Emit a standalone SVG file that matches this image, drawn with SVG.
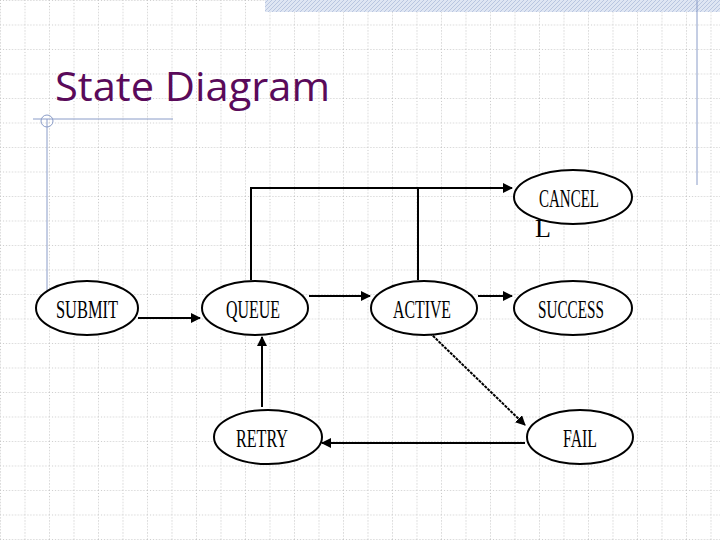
<svg xmlns="http://www.w3.org/2000/svg" width="720" height="540" viewBox="0 0 720 540">
<style>
.n ellipse{fill:#fff;stroke:#000;stroke-width:2}
.n text{font-family:"Liberation Serif",serif;font-size:26px;text-anchor:middle;}
.c line,.c path{stroke:#000;stroke-width:2;fill:none}
</style>
<defs>
<pattern id="g" width="24.5" height="24.5" patternUnits="userSpaceOnUse">
<path d="M0 0.5H24.5M0.5 0V24.5" stroke="#c8c8c8" stroke-width="1" stroke-dasharray="1 2"/>
</pattern>
<pattern id="h" width="4" height="4" patternUnits="userSpaceOnUse">
<rect width="4" height="4" fill="#dfe6f3"/><path d="M0 4L4 0" stroke="#b9c6e0" stroke-width="1"/>
</pattern>
<marker id="a" markerWidth="10" markerHeight="10" refX="9" refY="5" orient="auto" markerUnits="userSpaceOnUse">
<path d="M0 0L10 5L0 10z" fill="#000"/>
</marker>
</defs>
<rect width="720" height="540" fill="#fff"/>
<rect width="720" height="540" fill="url(#g)"/>
<rect x="265" y="0" width="455" height="12" fill="url(#h)"/>
<line x1="697" y1="0" x2="697" y2="185" stroke="#8a9cc8" stroke-width="1"/>
<line x1="33" y1="119" x2="173" y2="119" stroke="#8a9cc8" stroke-width="1"/>
<line x1="47" y1="119" x2="47" y2="290" stroke="#8a9cc8" stroke-width="1"/>
<circle cx="47" cy="121" r="6" fill="none" stroke="#8a9cc8" stroke-width="1"/>
<text x="55" y="101" font-family="Open Sans, sans-serif" font-size="40" fill="#5a0a5a" textLength="275" lengthAdjust="spacingAndGlyphs">State Diagram</text>
<g class="c" id="connectors">
<line x1="138" y1="318" x2="200" y2="318" marker-end="url(#a)"/>
<line x1="309" y1="296" x2="370" y2="296" marker-end="url(#a)"/>
<line x1="478" y1="296" x2="512" y2="296" marker-end="url(#a)"/>
<path d="M251 280V188H512" marker-end="url(#a)"/>
<line x1="418" y1="280" x2="418" y2="188"/>
<line x1="430" y1="333" x2="525" y2="425" stroke-width="1.5" stroke-dasharray="3 1" marker-end="url(#a)"/>
<line x1="525" y1="443" x2="322" y2="443" marker-end="url(#a)"/>
<line x1="262" y1="407" x2="262" y2="337" marker-end="url(#a)"/>
</g>
<g class="n" id="submit"><ellipse cx="87" cy="308" rx="51" ry="27"/><text x="87" y="318" textLength="62" lengthAdjust="spacingAndGlyphs">SUBMIT</text></g>
<g class="n" id="queue"><ellipse cx="255" cy="308" rx="53" ry="27"/><text x="253" y="318" textLength="54" lengthAdjust="spacingAndGlyphs">QUEUE</text></g>
<g class="n" id="active"><ellipse cx="424" cy="308" rx="53" ry="27"/><text x="422" y="318" textLength="58" lengthAdjust="spacingAndGlyphs">ACTIVE</text></g>
<g class="n" id="success"><ellipse cx="573" cy="308" rx="59" ry="27"/><text x="571" y="318" textLength="66" lengthAdjust="spacingAndGlyphs">SUCCESS</text></g>
<g class="n" id="cancel"><ellipse cx="573" cy="197" rx="59" ry="27"/><text x="569" y="207" textLength="60" lengthAdjust="spacingAndGlyphs">CANCEL</text><text x="543" y="237" font-size="22">L</text></g>
<g class="n" id="retry"><ellipse cx="268" cy="437" rx="54" ry="27"/><text x="262" y="447" textLength="52" lengthAdjust="spacingAndGlyphs">RETRY</text></g>
<g class="n" id="fail"><ellipse cx="580" cy="437" rx="53" ry="27"/><text x="580" y="447" textLength="34" lengthAdjust="spacingAndGlyphs">FAIL</text></g>
</svg>
